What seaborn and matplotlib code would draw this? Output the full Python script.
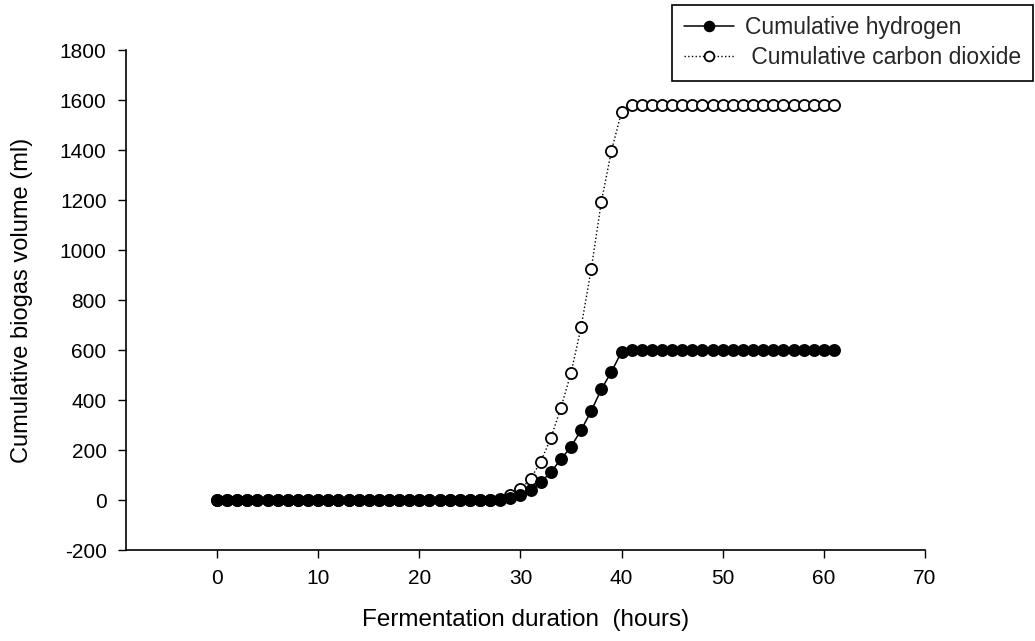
import numpy as np
import pandas as pd
import seaborn as sns
import matplotlib
matplotlib.use("Agg")
import matplotlib.pyplot as plt

hours = list(range(0, 62))
hydrogen = [0]*29 + [8, 20, 40, 71, 111, 163, 213, 280, 356, 443, 513, 593] + [600]*21
carbon_dioxide = [0]*28 + [3, 20, 43, 84, 153, 247, 369, 508, 692, 924, 1193, 1397, 1553] + [1582]*21

sns.set_style("ticks")
plt.rcParams['font.family'] = ['Liberation Sans', 'DejaVu Sans']
plt.rcParams['axes.unicode_minus'] = False

fig = plt.figure(figsize=(10.35, 6.41), dpi=100)
ax = fig.add_axes([126/1035, 1-550/641, (925-126)/1035, 500/641])

sns.lineplot(x=hours, y=carbon_dioxide, ax=ax, color='black', linestyle=':', linewidth=1,
             marker='o', markersize=8, markerfacecolor='white', markeredgecolor='black',
             markeredgewidth=1.3, label=' Cumulative carbon dioxide', legend=False)
sns.lineplot(x=hours, y=hydrogen, ax=ax, color='black', linestyle='-', linewidth=1.1,
             marker='o', markersize=8, markerfacecolor='black', markeredgecolor='black',
             markeredgewidth=1.3, label='Cumulative hydrogen', legend=False)

ax.set_xlim(-9, 70)
ax.set_ylim(-200, 1800)
ax.set_xticks(range(0, 71, 10))
ax.set_yticks(range(-200, 1801, 200))
ax.tick_params(axis='both', direction='out', length=6, width=1, labelsize=15, colors='black', pad=8)
for s in ['top', 'right']:
    ax.spines[s].set_visible(False)
for s in ['left', 'bottom']:
    ax.spines[s].set_linewidth(1.2)
    ax.spines[s].set_color('black')

ax.set_xlabel('Fermentation duration  (hours)', fontsize=17.5, color='black')
ax.set_ylabel('Cumulative biogas volume (ml)', fontsize=17, color='black')
ax.xaxis.set_label_coords(0.5, -0.118)
ax.yaxis.set_label_coords(-0.116, 0.5)

handles, labels = ax.get_legend_handles_labels()
order = [1, 0]
leg = fig.legend([handles[i] for i in order], [labels[i] for i in order],
                 loc='upper right', bbox_to_anchor=(1033/1035, 1 - 5/641), fontsize=16.5,
                 frameon=True, fancybox=False, edgecolor='black', framealpha=1,
                 handlelength=2.2, handletextpad=0.5, borderpad=0.5,
                 labelspacing=0.3, borderaxespad=0)
leg.get_frame().set_linewidth(1.2)
for h in leg.legend_handles:
    h.set_markersize(7)

fig.savefig('out.png', dpi=100)
